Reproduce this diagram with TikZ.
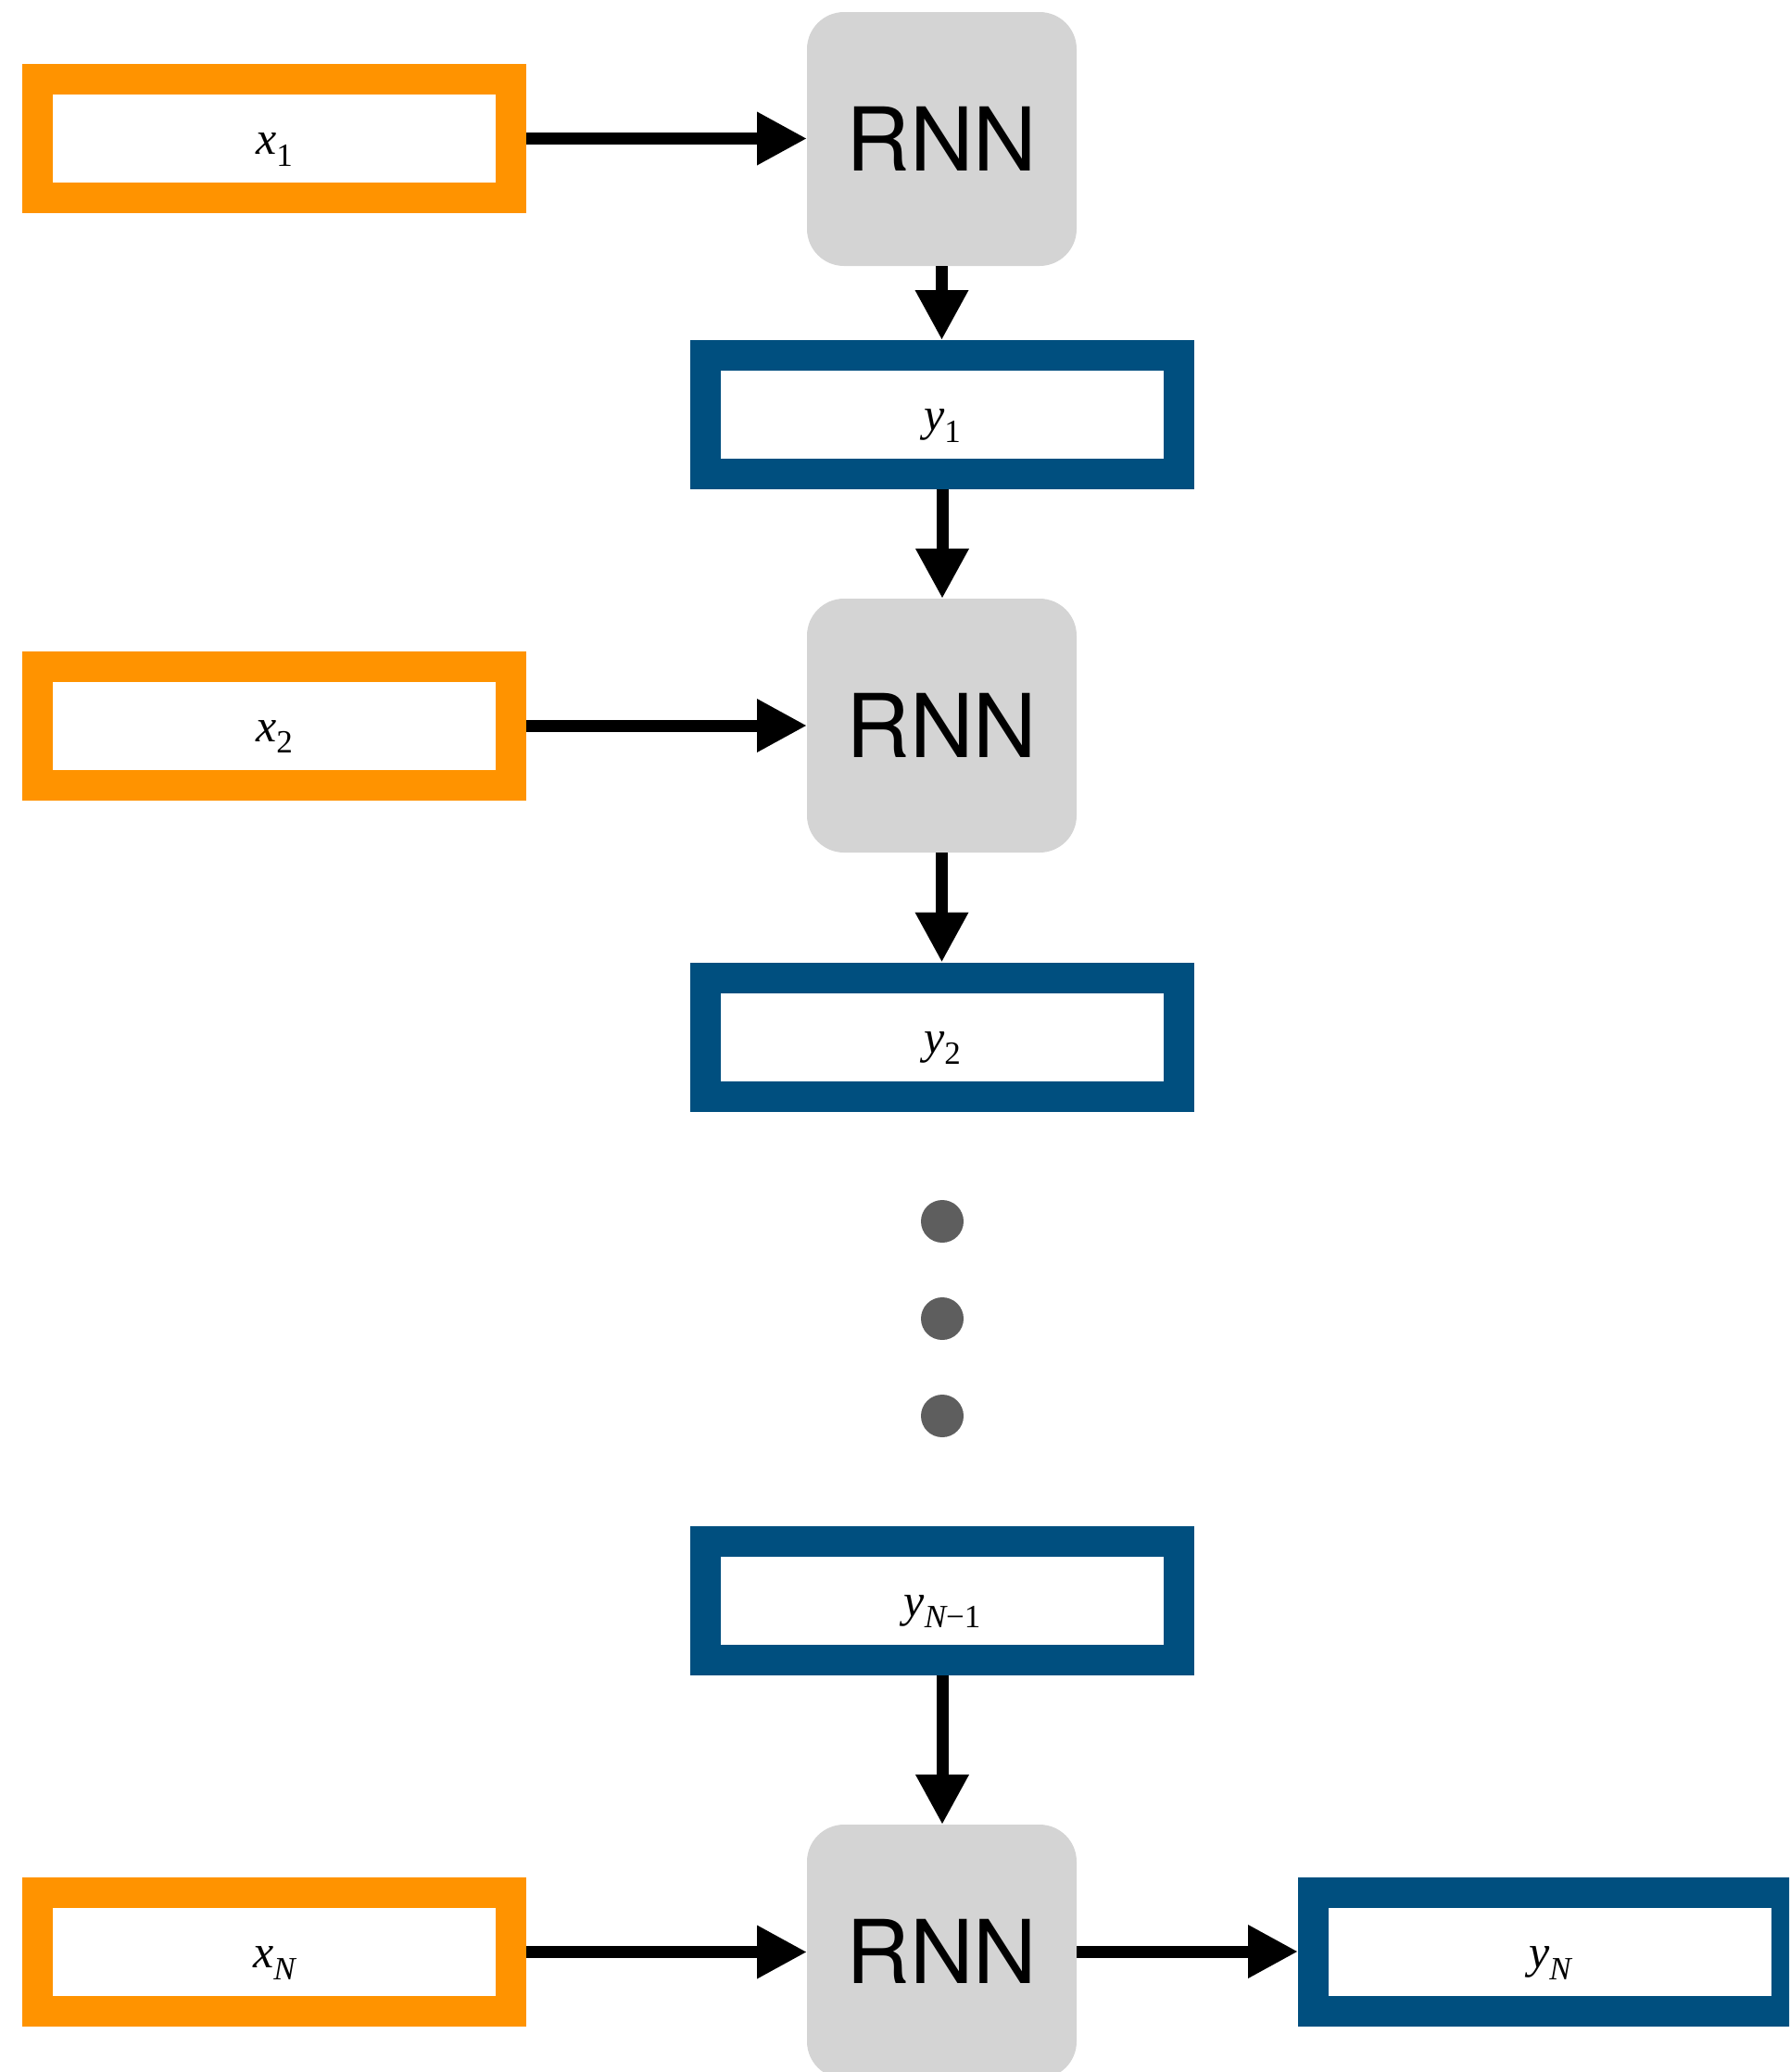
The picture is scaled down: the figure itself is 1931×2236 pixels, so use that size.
\documentclass[tikz,border=0pt]{standalone}
\usepackage{fontspec}
\setmainfont{Liberation Serif}
\newfontfamily\rnnfont{TeX Gyre Heros}
\usetikzlibrary{arrows.meta}
\definecolor{inorange}{HTML}{FF9300}
\definecolor{outblue}{HTML}{004F7F}
\definecolor{cellgrey}{HTML}{D4D4D4}
\definecolor{dotgrey}{HTML}{5E5E5E}
% italic variable with a lowered subscript
\newcommand\varsub[2]{{\itshape #1}\raisebox{-12.5pt}{\fontsize{35pt}{35pt}\selectfont #2}}

\begin{document}
\begin{tikzpicture}[x=1pt,y=-1pt,
  vecbox/.style={draw, line width=33pt, minimum width=511pt, minimum height=128pt,
    inner sep=0pt, fill=white, font=\fontsize{50pt}{50pt}\selectfont,
    text height=40pt, text depth=6pt},
  inbox/.style={vecbox, draw=inorange},
  outbox/.style={vecbox, draw=outblue},
  cell/.style={fill=cellgrey, rounded corners=40pt, minimum width=291pt,
    minimum height=274pt, inner sep=0pt, outer sep=0pt,
    font=\rnnfont\fontsize{95pt}{95pt}\selectfont},
  flow/.style={line width=13pt, -{Triangle[length=54pt,width=54pt]}},
  ellip/.style={circle, fill=dotgrey, minimum size=46pt, inner sep=0pt}]
\clip (0,0) rectangle (1931,2236);

% recurrent cells
\node[cell] (rnn1) at (1016.5,150) {RNN};
\node[cell] (rnn2) at (1016.5,783) {RNN};
\node[cell] (rnn3) at (1016.5,2106) {RNN};

% inputs
\node[inbox] (x1) at (296,149.5) {\varsub{x}{1}};
\node[inbox] (x2) at (296,783) {\varsub{x}{2}};
\node[inbox] (xN) at (296,2106.5) {\varsub{x}{\itshape N}};

% outputs
\node[outbox] (y1) at (1017,447.5) {\varsub{y}{1}};
\node[outbox] (y2) at (1017,1119) {\varsub{y}{2}};
\node[outbox] (yN1) at (1017,1727) {\varsub{y}{{\itshape N}\upshape −1}};
\node[outbox] (yN) at (1673,2106.5) {\varsub{y}{\itshape N}};

% ellipsis
\node[ellip] (d1) at (1017,1318) {};
\node[ellip] (d2) at (1017,1423) {};
\node[ellip] (d3) at (1017,1528) {};

% connectors
\draw[flow] (x1.east) -- (x1.east -| rnn1.west);
\draw[flow] (rnn1.south) -- (rnn1.south |- y1.north);
\draw[flow] (y1.south) -- (y1.south |- rnn2.north);
\draw[flow] (x2.east) -- (x2.east -| rnn2.west);
\draw[flow] (rnn2.south) -- (rnn2.south |- y2.north);
\draw[flow] (yN1.south) -- (yN1.south |- rnn3.north);
\draw[flow] (xN.east) -- (xN.east -| rnn3.west);
\draw[flow] (rnn3.east) -- (rnn3.east -| yN.west);
\end{tikzpicture}
\end{document}
